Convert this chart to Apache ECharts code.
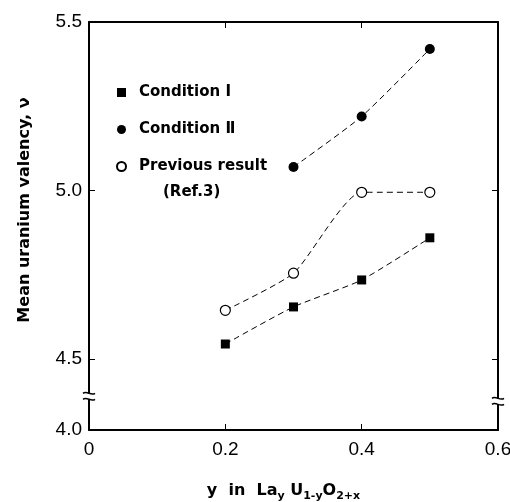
<!DOCTYPE html>
<html>
<head>
<meta charset="UTF-8">
<title>Mean uranium valency</title>
<script src="https://cdn.jsdelivr.net/npm/echarts@6/dist/echarts.min.js"></script>
<style>
  html, body { margin: 0; padding: 0; background: #fff; }
  #chart { width: 510px; height: 502px; }
</style>
</head>
<body>
<div id="chart"></div>
<script>
// composition y in LayU1-yO2+x
var xCond1 = [0.2, 0.3, 0.4, 0.5];
var yCond1 = [4.545, 4.655, 4.735, 4.86];
var xCond2 = [0.3, 0.4, 0.5];
var yCond2 = [5.07, 5.22, 5.42];
var xPrev = [0.2, 0.3, 0.4, 0.5];
var yPrev = [4.645, 4.755, 4.995, 4.995];

var xTicks = [0, 0.2, 0.4, 0.6];
var yTicks = [4.29, 4.5, 5.0, 5.5];   // 4.29 is where the broken axis shows "4.0"
var yTickText = ['4.0', '4.5', '5.0', '5.5'];
var names = ['Condition \u2160', 'Condition \u2161', 'Previous result'];

function pairs(xs, ys) {
    var res = [];
    for (var i = 0; i < xs.length; i++) res.push([xs[i], ys[i]]);
    return res;
}

var font = 'DejaVu Sans';
var numFont = 'Liberation Sans';
var chart = echarts.init(document.getElementById('chart'));

var dashed = {color: '#000', width: 1, type: [6, 4]};
var axisLine = {onZero: false, lineStyle: {color: '#000', width: 2}};

var option = {
    animation: false,
    backgroundColor: '#fff',
    grid: {left: 89, right: 12, top: 22, bottom: 72, outerBoundsMode: 'none'},
    legend: {
        orient: 'vertical',
        left: 111,
        top: 80,
        itemGap: 22,
        itemWidth: 9,
        itemHeight: 9,
        textStyle: {fontFamily: font, fontSize: 15, fontWeight: 'bold', color: '#000', padding: [0, 0, 0, 8]},
        data: [
            {name: names[0], icon: 'rect'},
            {name: names[1], icon: 'circle'},
            {name: names[2], icon: 'circle'}
        ]
    },
    xAxis: [{
        type: 'value',
        min: 0, max: 0.6, interval: 0.2,
        name: '{a|y  in  La}{s|y}{a| U}{s|1-y}{a|O}{s|2+x}',
        nameLocation: 'middle',
        nameGap: 47,
        nameTextStyle: {
            padding: [0, 20, 0, 0],
            rich: {
                a: {fontFamily: font, fontSize: 16, fontWeight: 'bold', color: '#000', verticalAlign: 'bottom', lineHeight: 22},
                s: {fontFamily: font, fontSize: 11, fontWeight: 'bold', color: '#000', verticalAlign: 'bottom', lineHeight: 22, padding: [0, 0, -3, 0]}
            }
        },
        axisLine: axisLine,
        axisTick: {inside: true, length: 6, lineStyle: {color: '#000'}, customValues: [0.2, 0.4]},
        axisLabel: {
            customValues: xTicks,
            fontFamily: numFont, fontSize: 19, color: '#000', margin: 10,
            formatter: function (v) { return v === 0 ? '0' : v.toFixed(1); }
        },
        splitLine: {show: false}
    }, {
        type: 'value',
        position: 'top',
        min: 0, max: 0.6, interval: 0.2,
        axisLine: axisLine,
        axisTick: {inside: true, length: 6, lineStyle: {color: '#000'}, customValues: [0.2, 0.4]},
        axisLabel: {show: false},
        splitLine: {show: false}
    }],
    yAxis: [{
        type: 'value',
        min: 4.29, max: 5.5,
        name: 'Mean uranium valency, \u03BD',
        nameLocation: 'middle',
        nameGap: 56,
        nameTextStyle: {fontFamily: font, fontSize: 16, fontWeight: 'bold', color: '#000', padding: [0, 0, 0, 32]},
        axisLine: axisLine,
        axisTick: {inside: true, length: 6, lineStyle: {color: '#000'}, customValues: [4.5, 5.0]},
        axisLabel: {
            customValues: yTicks,
            fontFamily: numFont, fontSize: 19, color: '#000', margin: 7,
            formatter: function (v) {
                var i = yTicks.indexOf(v);
                return i >= 0 ? yTickText[i] : '';
            }
        },
        splitLine: {show: false}
    }, {
        type: 'value',
        position: 'right',
        min: 4.29, max: 5.5,
        axisLine: {show: true, onZero: false, lineStyle: {color: '#000', width: 2}},
        axisTick: {show: true, inside: true, length: 6, lineStyle: {color: '#000'}, customValues: [4.5, 5.0]},
        axisLabel: {show: false},
        splitLine: {show: false}
    }],
    series: [{
        name: names[0],
        type: 'line',
        smooth: 0.2,
        data: pairs(xCond1, yCond1),
        symbol: 'rect',
        symbolSize: 9,
        itemStyle: {color: '#000'},
        lineStyle: dashed
    }, {
        name: names[1],
        type: 'line',
        smooth: 0.2,
        data: pairs(xCond2, yCond2),
        symbol: 'circle',
        symbolSize: 10,
        itemStyle: {color: '#000'},
        lineStyle: dashed
    }, {
        name: names[2],
        type: 'line',
        smooth: 0.2,
        data: pairs(xPrev, yPrev),
        symbol: 'circle',
        symbolSize: 10,
        itemStyle: {color: '#fff', borderColor: '#000', borderWidth: 1.2},
        lineStyle: dashed
    }]
};
chart.setOption(option);

// axis break marks and the second legend line
function breakMark(px, py) {
    return {
        type: 'group',
        children: [
            {type: 'rect', shape: {x: px - 6, y: py - 3, width: 12, height: 6}, style: {fill: '#fff'}, z: 100},
            {type: 'bezierCurve', shape: {x1: px - 6, y1: py - 3, x2: px + 6, y2: py - 3, cpx1: px - 2, cpy1: py - 6, cpx2: px + 2, cpy2: py}, style: {stroke: '#000', lineWidth: 1.5, fill: null}, z: 101},
            {type: 'bezierCurve', shape: {x1: px - 6, y1: py + 3, x2: px + 6, y2: py + 3, cpx1: px - 2, cpy1: py, cpx2: px + 2, cpy2: py + 6}, style: {stroke: '#000', lineWidth: 1.5, fill: null}, z: 101}
        ]
    };
}
var leftX = chart.convertToPixel({xAxisIndex: 0}, 0);
var rightX = chart.convertToPixel({xAxisIndex: 0}, 0.6);
var breakL = chart.convertToPixel({yAxisIndex: 0}, 4.39);
var breakR = chart.convertToPixel({yAxisIndex: 0}, 4.375);
chart.setOption({
    graphic: [
        breakMark(leftX, breakL),
        breakMark(rightX, breakR),
        {type: 'text', left: 163, top: 185, style: {text: '(Ref.3)', font: 'bold 15px "DejaVu Sans"', fill: '#000'}}
    ]
});
</script>
</body>
</html>
